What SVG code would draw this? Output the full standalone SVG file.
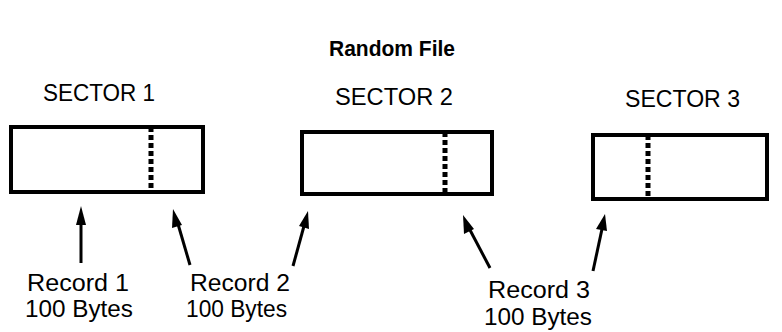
<svg xmlns="http://www.w3.org/2000/svg" width="782" height="332" viewBox="0 0 782 332">
<defs>
<style>
.t{font-family:"Liberation Sans",Arial,sans-serif;font-size:23px;fill:#000}
.title{font-family:"Liberation Sans",Arial,sans-serif;font-size:22px;font-weight:bold;fill:#000}
.box{fill:#fff;stroke:#000;stroke-width:4}
.dot{stroke:#000;stroke-width:5;stroke-dasharray:5 3}
.arr{stroke:#000;stroke-width:3;fill:none}
.head{fill:#000}
</style>
</defs>
<rect width="782" height="332" fill="#fff"/>
<text class="title" x="392" y="56" text-anchor="middle" textLength="126" lengthAdjust="spacingAndGlyphs">Random File</text>
<g id="sector1">
<text class="t" x="43" y="101" textLength="112" lengthAdjust="spacingAndGlyphs">SECTOR 1</text>
<rect class="box" x="11" y="127" width="192" height="65"/>
<line class="dot" x1="151" y1="127" x2="151" y2="192"/>
</g>
<g id="sector2">
<text class="t" x="335" y="105" textLength="118" lengthAdjust="spacingAndGlyphs">SECTOR 2</text>
<rect class="box" x="302" y="132" width="190" height="62"/>
<line class="dot" x1="445" y1="132" x2="445" y2="194"/>
</g>
<g id="sector3">
<text class="t" x="625" y="107" textLength="115" lengthAdjust="spacingAndGlyphs">SECTOR 3</text>
<rect class="box" x="593" y="135" width="174" height="64"/>
<line class="dot" x1="648" y1="135" x2="648" y2="199"/>
</g>
<g id="record1">
<text class="t" x="27" y="291" textLength="102" lengthAdjust="spacingAndGlyphs">Record 1</text>
<text class="t" x="25" y="317" textLength="108" lengthAdjust="spacingAndGlyphs">100 Bytes</text>
</g>
<g id="record2">
<text class="t" x="190" y="291" textLength="100" lengthAdjust="spacingAndGlyphs">Record 2</text>
<text class="t" x="186" y="317" textLength="101" lengthAdjust="spacingAndGlyphs">100 Bytes</text>
</g>
<g id="record3">
<text class="t" x="488" y="298" textLength="102" lengthAdjust="spacingAndGlyphs">Record 3</text>
<text class="t" x="484" y="325" textLength="108" lengthAdjust="spacingAndGlyphs">100 Bytes</text>
</g>
<g id="connectors">
<line class="arr" x1="81" y1="263" x2="81" y2="222"/>
<polygon class="head" points="81,206 76,225 86,225"/>
<line class="arr" x1="190" y1="265" x2="178" y2="224"/>
<polygon class="head" points="173,209 172,228 182,225"/>
<line class="arr" x1="293" y1="266" x2="304" y2="226"/>
<polygon class="head" points="308,211 299,226 309,229"/>
<line class="arr" x1="490" y1="268" x2="470" y2="230"/>
<polygon class="head" points="463,215 464,234 474,229"/>
<line class="arr" x1="593" y1="271" x2="602" y2="229"/>
<polygon class="head" points="605,214 596,229 607,231"/>
</g>
</svg>
